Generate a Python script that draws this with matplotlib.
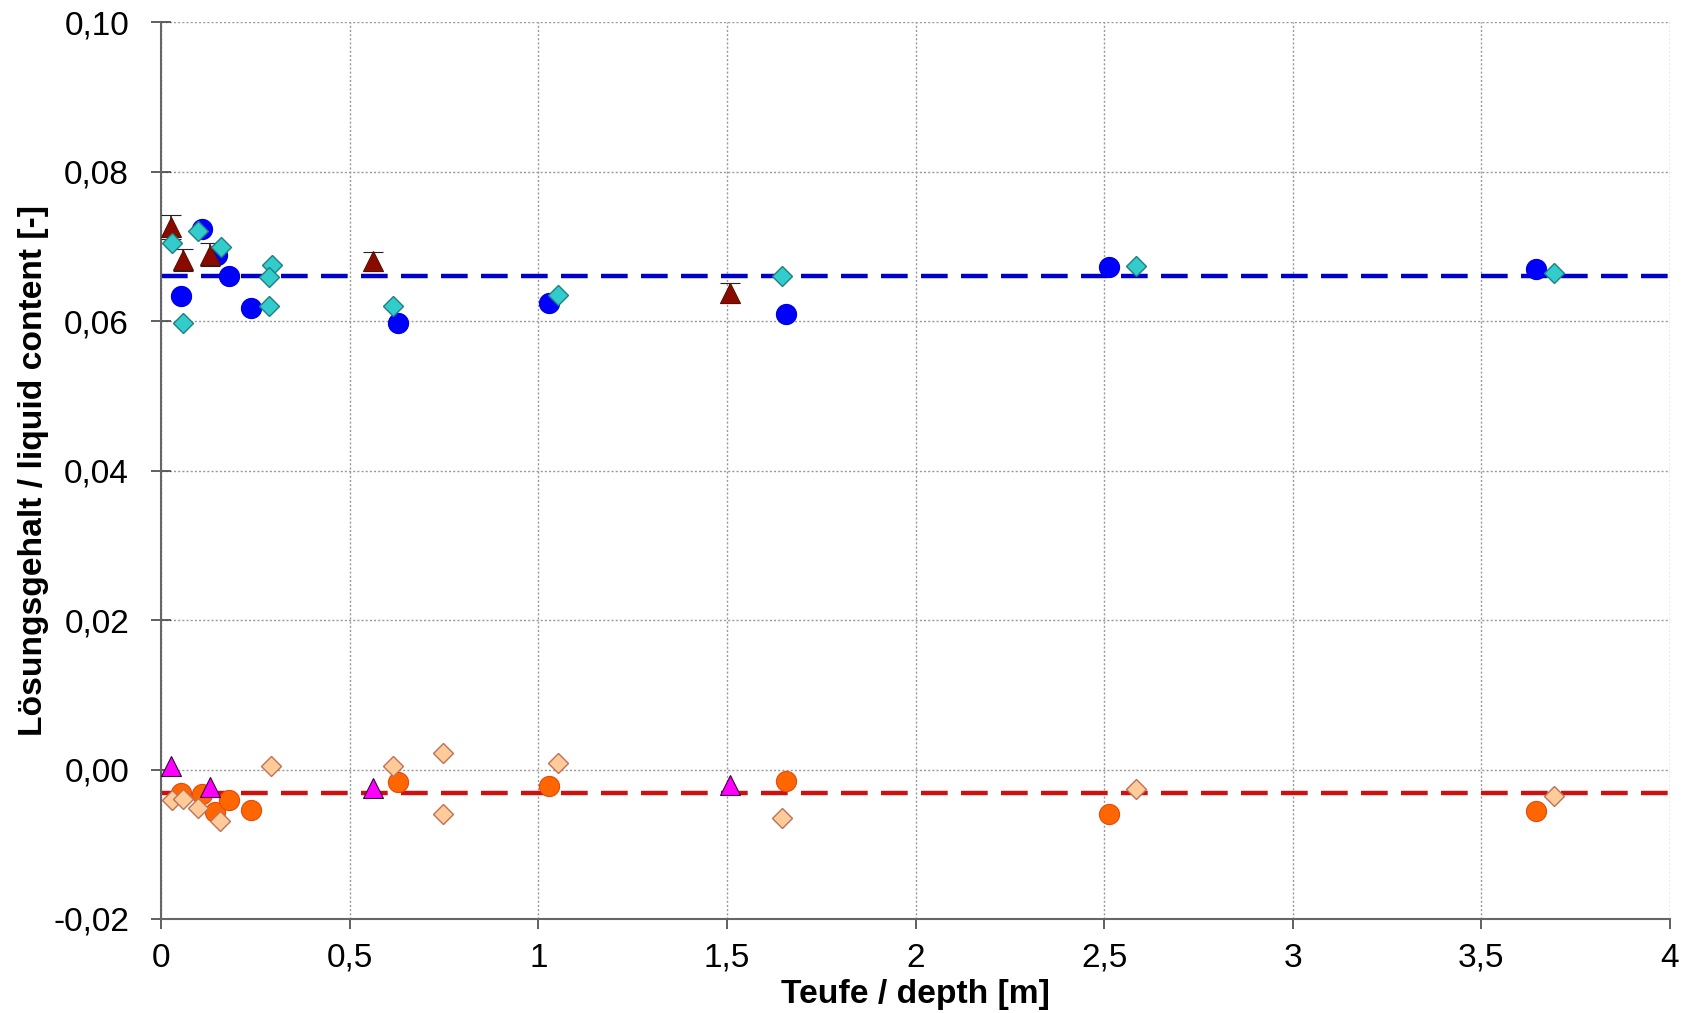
import matplotlib
matplotlib.use("Agg")
import matplotlib.pyplot as plt
from matplotlib.ticker import FuncFormatter

plt.rcParams['font.family'] = ['Liberation Sans', 'DejaVu Sans']

# upper group (liquid content near 0.066)
circ_blue_x = [0.053, 0.108, 0.148, 0.180, 0.238, 0.627, 1.028, 1.656, 2.514, 3.646]
circ_blue_y = [0.0634, 0.0724, 0.0689, 0.0661, 0.0617, 0.0597, 0.0624, 0.0609, 0.0672, 0.0670]

dia_cyan_x = [0.028, 0.099, 0.158, 0.293, 0.285, 0.285, 0.059, 0.616, 1.051, 1.645, 2.585, 3.692]
dia_cyan_y = [0.0705, 0.0721, 0.0699, 0.0675, 0.0659, 0.0620, 0.0597, 0.0620, 0.0635, 0.0660, 0.0674, 0.0664]

tri_red_x = [0.026, 0.059, 0.130, 0.563, 1.508]
tri_red_y = [0.0726, 0.0682, 0.0689, 0.0680, 0.0638]
tri_red_err = [0.0016, 0.0015, 0.0015, 0.0013, 0.0013]

mean_upper = 0.0661

# lower group (near zero)
circ_orange_x = [0.053, 0.108, 0.143, 0.180, 0.238, 0.627, 1.028, 1.656, 2.514, 3.646]
circ_orange_y = [-0.0031, -0.0033, -0.0057, -0.0041, -0.0054, -0.0017, -0.0022, -0.0016, -0.0060, -0.0055]

dia_peach_x = [0.028, 0.059, 0.099, 0.156, 0.292, 0.614, 0.748, 0.748, 1.051, 1.645, 2.585, 3.692]
dia_peach_y = [-0.0041, -0.0039, -0.0051, -0.0069, 0.0005, 0.0005, 0.0022, -0.0060, 0.0009, -0.0065, -0.0026, -0.0036]

tri_mag_x = [0.026, 0.130, 0.563, 1.508]
tri_mag_y = [0.0005, -0.0024, -0.0025, -0.0021]

mean_lower = -0.0031

fig = plt.figure(figsize=(16.97, 10.13), dpi=100)
ax = fig.add_axes([0.0949, 0.0928, 0.8892, 0.8852])

# mean lines
ax.axhline(mean_upper, color='#0000CC', lw=3.2, dashes=(6, 3), zorder=2)
ax.axhline(mean_lower, color='#CC1111', lw=3.2, dashes=(6, 3), zorder=2)

ax.plot(circ_blue_x, circ_blue_y, 'o', ms=14.5, color='#0000FF',
        mec='#0000DD', mew=0.8, zorder=3)
ax.plot(circ_orange_x, circ_orange_y, 'o', ms=14.5, color='#FF6600',
        mec='#E24A10', mew=0.8, zorder=3)

ax.errorbar(tri_red_x, tri_red_y, yerr=tri_red_err, fmt='^', ms=14.5,
            color='#8B0A00', mec='#5a1000', mew=0.8, ecolor='#222222',
            elinewidth=1.2, capsize=7, capthick=1.5, zorder=4)
ax.plot(tri_mag_x, tri_mag_y, '^', ms=14.5, color='#FF00FF',
        mec='#3a003a', mew=0.8, zorder=4)

ax.plot(dia_cyan_x, dia_cyan_y, 'D', ms=10.5, color='#33CCCC',
        mec='#1E8080', mew=1.0, zorder=5)
ax.plot(dia_peach_x, dia_peach_y, 'D', ms=10.5, color='#FFCC99',
        mec='#C07058', mew=1.0, zorder=5)

ax.set_xlim(0, 4)
ax.set_ylim(-0.02, 0.10)
ax.set_xticks([0, 0.5, 1, 1.5, 2, 2.5, 3, 3.5, 4])
ax.set_yticks([-0.02, 0, 0.02, 0.04, 0.06, 0.08, 0.10])


def comma_x(v, pos):
    s = ('%g' % v).replace('.', ',')
    return s


def comma_y(v, pos):
    return ('%.2f' % v).replace('.', ',').replace('-0,00', '0,00')


ax.xaxis.set_major_formatter(FuncFormatter(comma_x))
ax.yaxis.set_major_formatter(FuncFormatter(comma_y))

ax.grid(True, color='#999999', linestyle=(0, (1.5, 1.5)), lw=1.0)
ax.set_axisbelow(True)
for side in ['top', 'right']:
    ax.spines[side].set_visible(False)
for side in ['left', 'bottom']:
    ax.spines[side].set_color('#666666')
    ax.spines[side].set_linewidth(1.5)

ax.tick_params(axis='y', direction='inout', length=14, width=1.2,
               color='#444444', labelsize=24, pad=16)
ax.tick_params(axis='x', direction='out', length=7, width=1.2,
               color='#444444', labelsize=24, pad=10)

ax.set_xlabel('Teufe / depth [m]', fontsize=24.2, fontweight='bold', labelpad=4)
ax.set_ylabel('Lösungsgehalt / liquid content [-]', fontsize=24.2,
              fontweight='bold', labelpad=3)

fig.savefig('out.png', dpi=100)
